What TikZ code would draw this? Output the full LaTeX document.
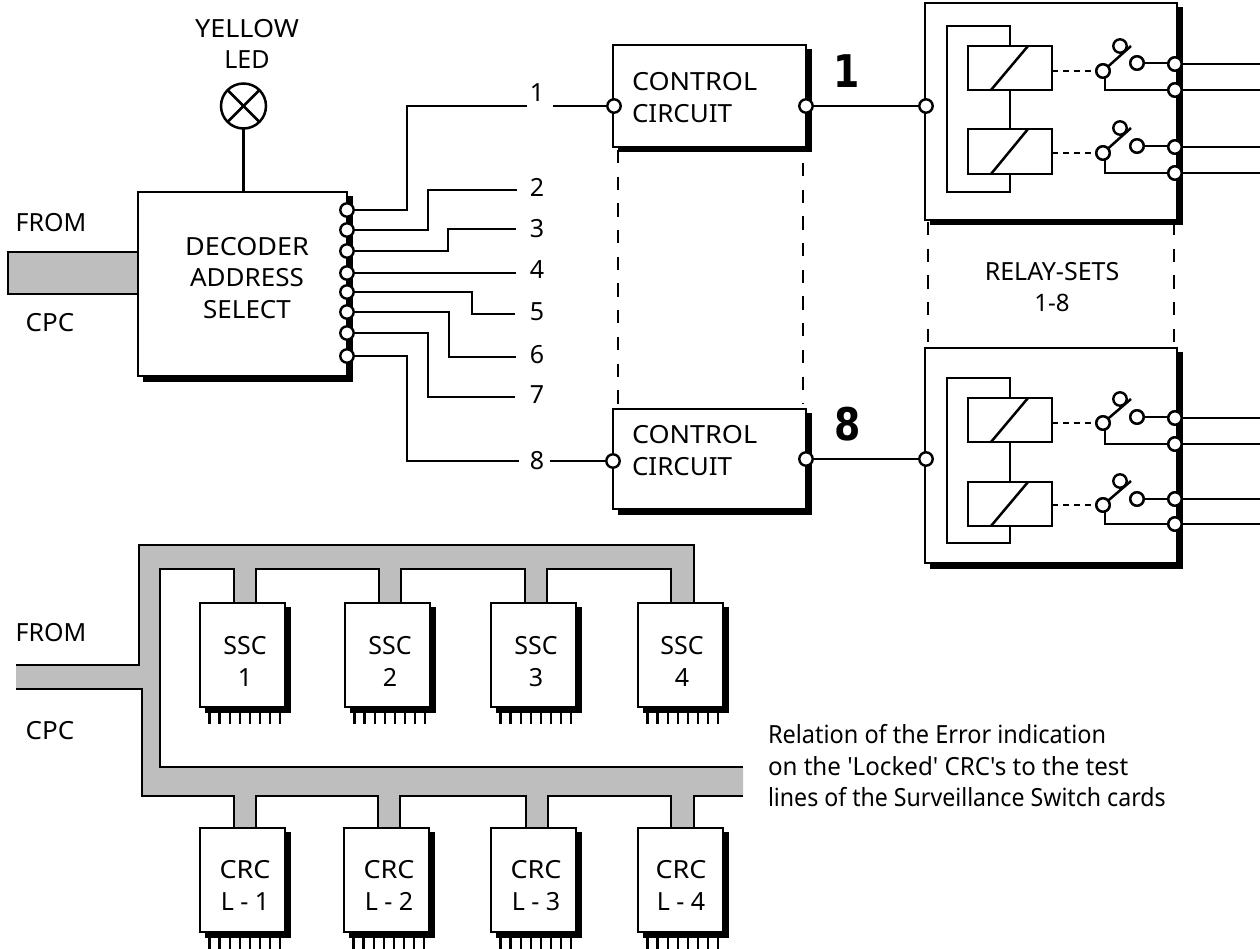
\documentclass[tikz,border=0pt]{standalone}
\usepackage{fontspec}
\setmainfont{Noto Sans}
\newfontfamily\wideA[FakeStretch=1.08]{Noto Sans}
\newfontfamily\wideB[FakeStretch=1.04]{Noto Sans}
\newfontfamily\noteA[FakeStretch=0.94]{Noto Sans}
\newfontfamily\noteB[FakeStretch=0.965]{Noto Sans}
\newfontfamily\noteC[FakeStretch=0.925]{Noto Sans}
\newfontfamily\bigbold[FakeStretch=0.84]{DejaVu Sans}
\definecolor{busgrey}{HTML}{BEBEBE}
\tikzset{
  lw/.style={line width=2.5pt},
  wire/.style={lw,line join=miter,draw=black},
  boxst/.style={draw=black,fill=white,lw,inner sep=0pt,outer sep=0pt},
  term/.style={circle,draw=black,fill=white,line width=2.4pt,inner sep=0pt,outer sep=0pt,minimum size=13.4pt},
  txt/.style={anchor=base,inner sep=0pt,outer sep=0pt,font=\fontsize{25}{30}\selectfont},
  txtl/.style={txt,anchor=base west},
  big/.style={anchor=base,inner sep=0pt,font=\fontsize{45}{50}\bigbold\bfseries\selectfont},
  sdash/.style={lw,dash pattern=on 6pt off 5pt},
  ldash/.style={line width=2.5pt,dash pattern=on 13.3pt off 13.4pt},
  pin/.style={line width=2.4pt},
}
\newcommand{\shbox}[5]{%
  \fill[black] (#1+4.5,#2+4) rectangle (#3+5.5,#4+5.5);
  \node[boxst,minimum width={(#3-#1)*1pt},minimum height={(#4-#2)*1pt}] (#5) at ({(#1+#3)/2},{(#2+#4)/2}) {};
}
\newcommand{\coilbox}[3]{%
  \node[boxst,minimum width=84pt,minimum height={(#3-#2)*1pt}] (#1) at (1010,{(#2+#3)/2}) {};
  \draw[wire] (991,#3) -- (1028,#2);
}
% name, coil, dash y, upper y, right y, outer y, lower y
\newcommand{\relsw}[7]{%
  \node[term] (#1p) at (1103,#3) {};
  \node[term] (#1u) at (1120,#4) {};
  \node[term] (#1r) at (1137,#5) {};
  \node[term] (#1a) at (1175,#6) {};
  \node[term] (#1b) at (1175,#7) {};
  \coordinate (#1e) at (1260,#6);
  \coordinate (#1f) at (1260,#7);
  \coordinate (#1t) at (1131,#4);
  \draw[sdash] (#2.east |- #1p) -- (#1p.west);
  \draw[wire] (#1p) -- (#1t);
  \draw[wire] (#1r) -- (#1r -| #1a);
  \draw[wire] (1105,{#3+6}) |- (#1b);
  \draw[wire] (#1a) -- (#1e);
  \draw[wire] (#1b) -- (#1f);
  \node[term] at (#1p) {};
  \node[term] at (#1r) {};
  \node[term] at (#1a) {};
  \node[term] at (#1b) {};
}
% name, x1 of box, y1, text centre, l1, baseline offset, l2
\newcommand{\card}[7]{%
  \foreach \i in {0,...,7} \draw[pin] ({#2+9.5+\i*10.1},{#3+105}) -- ++(0,15.5);
  \shbox{#2}{#3}{#2+85}{#3+104}{#1}
  \node[txt] (#1a) at (#4,#3+#6) {#5};
  \node[txt] (#1b) at (#4,#3+#6+32) {#7};
}
\begin{document}
\begin{tikzpicture}[x=1pt,y=-1pt]
\useasboundingbox (0,0) rectangle (1260,949);
% labels top-left
\node[txt] (yel) at (247,38) {\wideA YELLOW};
\node[txt] (led) at (247,69) {LED};
\node[txt] (from1) at (51,232) {FROM};
\node[txt] (cpc1) at (50,331) {\wideB CPC};
% input bus top
\fill[busgrey] (8,252) rectangle (139,294);
\coordinate (busa) at (8,252);
\coordinate (busb) at (8,294);
\coordinate (busc) at (139,252);
\coordinate (busd) at (139,294);
\draw[wire] (busc) -- (busa) -- (busb) -- (busd);
% decoder
\shbox{138}{192}{347}{376}{dec}
\node[txt] (t1) at (247,256) {\wideA DECODER};
\node[txt] (t2) at (247,287) {\wideB ADDRESS};
\node[txt] (t3) at (247,319) {\wideB SELECT};
% LED
\node[circle,draw=black,fill=white,lw,minimum size=45pt,inner sep=0pt,outer sep=0pt] (lamp) at (243.5,106) {};
\draw[wire] (lamp.north west) -- (lamp.south east);
\draw[wire] (lamp.north east) -- (lamp.south west);
\draw[wire] (lamp.south) -- (lamp.south |- dec.north);
% dashed links
\draw[ldash] (618,150) -- (618,404);
\draw[ldash] (803,163) -- (803,404);
\draw[ldash] (928,222) -- (928,346);
\draw[ldash] (1174,222) -- (1174,346);
% control
\shbox{613}{45}{806}{147}{cc1}
\shbox{613}{409}{806}{509}{cc2}
\node[txtl] (c1a) at (632,91) {\wideA CONTROL};
\node[txtl] (c1b) at (632,123) {\wideB CIRCUIT};
\node[txtl] (c2a) at (632,443) {\wideA CONTROL};
\node[txtl] (c2b) at (632,475) {\wideB CIRCUIT};
\node[big] (n1) at (847,88) {1};
\node[big] (n8) at (848,440) {8};
% digit labels
\node[txt] (l1) at (537,102) {1};
\node[txt] (l2) at (537,197) {2};
\node[txt] (l3) at (537,238) {3};
\node[txt] (l4) at (537,279) {4};
\node[txt] (l5) at (537,320) {5};
\node[txt] (l6) at (537,363) {6};
\node[txt] (l7) at (537,403) {7};
\node[txt] (l8) at (537,469) {8};
% terminals
\node[term] (d1) at (347,210) {};
\node[term] (d2) at (347,230) {};
\node[term] (d3) at (347,251) {};
\node[term] (d4) at (347,273) {};
\node[term] (d5) at (347,292) {};
\node[term] (d6) at (347,312) {};
\node[term] (d7) at (347,333) {};
\node[term] (d8) at (347,356) {};
\node[term] (ci1) at (614,106) {};
\node[term] (co1) at (806,106) {};
\node[term] (ci8) at (613,461) {};
\node[term] (co8) at (806,459) {};
% wires
\coordinate (e1) at (527,106);
\coordinate (s1) at (553,106);
\coordinate (e2) at (517,190);
\coordinate (e3) at (516,229);
\coordinate (e4) at (516,273);
\coordinate (e5) at (515,314);
\coordinate (e6) at (516,357);
\coordinate (e7) at (515,397);
\coordinate (e8) at (519,461);
\coordinate (s8) at (550,461);
\draw[wire] (d1.east) -- (407,210) |- (e1);
\draw[wire] (s1) -- (ci1.west);
\draw[wire] (d2.east) -- (428,230) |- (e2);
\draw[wire] (d3.east) -- (448,251) |- (e3);
\draw[wire] (d4.east) -- (e4);
\draw[wire] (d5.east) -- (472,292) |- (e5);
\draw[wire] (d6.east) -- (449,312) |- (e6);
\draw[wire] (d7.east) -- (428,333) |- (e7);
\draw[wire] (d8.east) -- (407,356) |- (e8);
\draw[wire] (s8) -- (ci8.west);
% relay 1
\shbox{925}{3}{1177}{220}{rs1}
\coilbox{c11}{46}{90}
\coilbox{c12}{129}{174}
\draw[wire] (c11.north) -- ++(0,-20) -| (947,192) -| (c12.south);
\draw[wire] (c11.south) -- (c12.north);
\relsw{a}{c11}{71}{46}{63}{64}{90}
\relsw{b}{c12}{153}{128}{146}{147}{173}
\node[term] (ri1) at (926,106) {};
\draw[wire] (co1.east) -- (ri1.west);
% relay 2
\shbox{925}{348}{1177}{563}{rs2}
\coilbox{c21}{398}{442}
\coilbox{c22}{482}{526}
\draw[wire] (c21.north) -- ++(0,-20) -| (947,543) -| (c22.south);
\draw[wire] (c21.south) -- (c22.north);
\relsw{c}{c21}{423}{399}{417}{418}{444}
\relsw{d}{c22}{505}{481}{499}{499}{524}
\node[term] (ri8) at (926,459) {};
\draw[wire] (co8.east) -- (ri8.west);
\node[txt] (rs1t) at (1052,281) {RELAY-SETS};
\node[txt,font=\fontsize{24}{28}\selectfont] (rs2t) at (1052,312) {1-8};
% lower bus
\fill[busgrey] (16,665) -- (139,665) -- (139,545) -- (694,545) -- (694,603) -- (671,603) -- (671,569) -- (547,569) -- (547,603) -- (525,603) -- (525,569) -- (401,569) -- (401,603) -- (379,603) -- (379,569) -- (256,569) -- (256,603) -- (234,603) -- (234,569) -- (160,569) -- (160,767) -- (743,767) -- (743,796) -- (694,796) -- (694,828) -- (671,828) -- (671,796) -- (548,796) -- (548,828) -- (526,828) -- (526,796) -- (400,796) -- (400,828) -- (378,828) -- (378,796) -- (256,796) -- (256,828) -- (234,828) -- (234,796) -- (142,796) -- (142,689) -- (16,689) -- cycle;
\draw[wire] (16,665) -- (139,665) -- (139,545) -- (694,545) -- (694,603);
\draw[wire] (671,603) -- (671,569) -- (547,569) -- (547,603);
\draw[wire] (525,603) -- (525,569) -- (401,569) -- (401,603);
\draw[wire] (379,603) -- (379,569) -- (256,569) -- (256,603);
\draw[wire] (234,603) -- (234,569) -- (160,569) -- (160,767) -- (743,767);
\draw[wire] (743,796) -- (694,796) -- (694,828);
\draw[wire] (671,828) -- (671,796) -- (548,796) -- (548,828);
\draw[wire] (526,828) -- (526,796) -- (400,796) -- (400,828);
\draw[wire] (378,828) -- (378,796) -- (256,796) -- (256,828);
\draw[wire] (234,828) -- (234,796) -- (142,796) -- (142,689) -- (16,689);
\node[txt] (from2) at (51,641) {FROM};
\node[txt] (cpc2) at (50,739) {\wideB CPC};
% cards
\card{ssc1}{200}{603}{245}{SSC}{51}{1}
\card{ssc2}{345}{603}{390}{SSC}{51}{2}
\card{ssc3}{491}{603}{536}{SSC}{51}{3}
\card{ssc4}{638}{603}{682}{SSC}{51}{4}
\card{crc1}{200}{828}{245}{\wideA CRC}{50}{L - 1}
\card{crc2}{344}{828}{389}{\wideA CRC}{50}{L - 2}
\card{crc3}{491}{828}{536}{\wideA CRC}{50}{L - 3}
\card{crc4}{638}{828}{681}{\wideA CRC}{50}{L - 4}
% note
\node[txtl] (n1a) at (768,743) {\noteA Relation of the Error indication};
\node[txtl] (n1b) at (768,775) {\noteB on the 'Locked' CRC's to the test};
\node[txtl] (n1c) at (768,806) {\noteC lines of the Surveillance Switch cards};
\end{tikzpicture}
\end{document}
